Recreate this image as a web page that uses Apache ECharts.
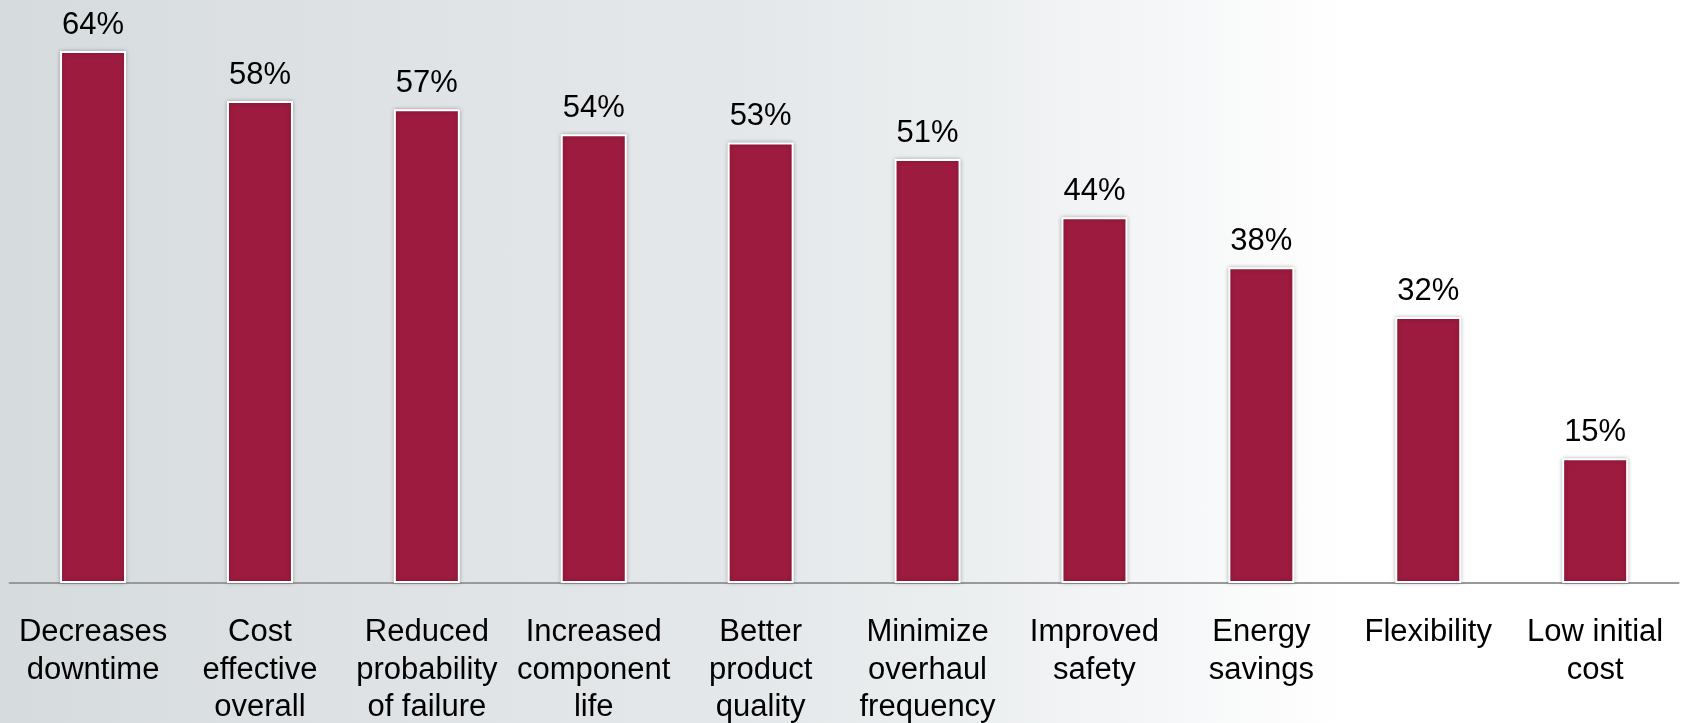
<!DOCTYPE html>
<html>
<head>
<meta charset="utf-8">
<script src="https://cdn.jsdelivr.net/npm/echarts@6/dist/echarts.min.js"></script>
<style>
  html, body { margin: 0; padding: 0; }
  body {
    width: 1681px; height: 723px; overflow: hidden;
    background: linear-gradient(90deg, #d6dbde 0%, #dfe3e6 25%, #e5e8ea 45%, #eceff0 58%, #f6f7f8 70%, #ffffff 80%, #ffffff 100%);
  }
  #chart { width: 1681px; height: 723px; }
</style>
</head>
<body>
<div id="chart"></div>
<script>
const categories = [
  "Decreases\ndowntime",
  "Cost\neffective\noverall",
  "Reduced\nprobability\nof failure",
  "Increased\ncomponent\nlife",
  "Better\nproduct\nquality",
  "Minimize\noverhaul\nfrequency",
  "Improved\nsafety",
  "Energy\nsavings",
  "Flexibility",
  "Low initial\ncost"
];
const values = [64, 58, 57, 54, 53, 51, 44, 38, 32, 15];

const chart = echarts.init(document.getElementById('chart'), null, { renderer: 'canvas' });
const font = "'Liberation Sans', Arial, Helvetica, sans-serif";
chart.setOption({
  backgroundColor: 'transparent',
  animation: false,
  grid: { left: 9.6, right: 2.4, top: 51, bottom: 140, containLabel: false, outerBoundsMode: 'none' },
  xAxis: {
    type: 'category',
    data: categories,
    axisLine: { show: true, lineStyle: { color: '#999999', width: 2 } },
    axisTick: { show: false },
    axisLabel: {
      interval: 0,
      margin: 31,
      color: '#000000',
      fontFamily: font,
      fontSize: 31,
      lineHeight: 37.5,
      align: 'center'
    }
  },
  yAxis: {
    type: 'value',
    min: 0,
    max: 64,
    show: false,
    splitLine: { show: false }
  },
  series: [{
    type: 'bar',
    data: values,
    barWidth: 66,
    itemStyle: {
      color: '#9c1b3e',
      borderColor: '#ffffff',
      borderWidth: 2,
      shadowColor: 'rgba(0,0,0,0.25)',
      shadowBlur: 4
    },
    label: {
      show: true,
      position: 'top',
      distance: 10,
      formatter: '{c}%',
      color: '#000000',
      fontFamily: font,
      fontSize: 31
    }
  }]
});
</script>
</body>
</html>
